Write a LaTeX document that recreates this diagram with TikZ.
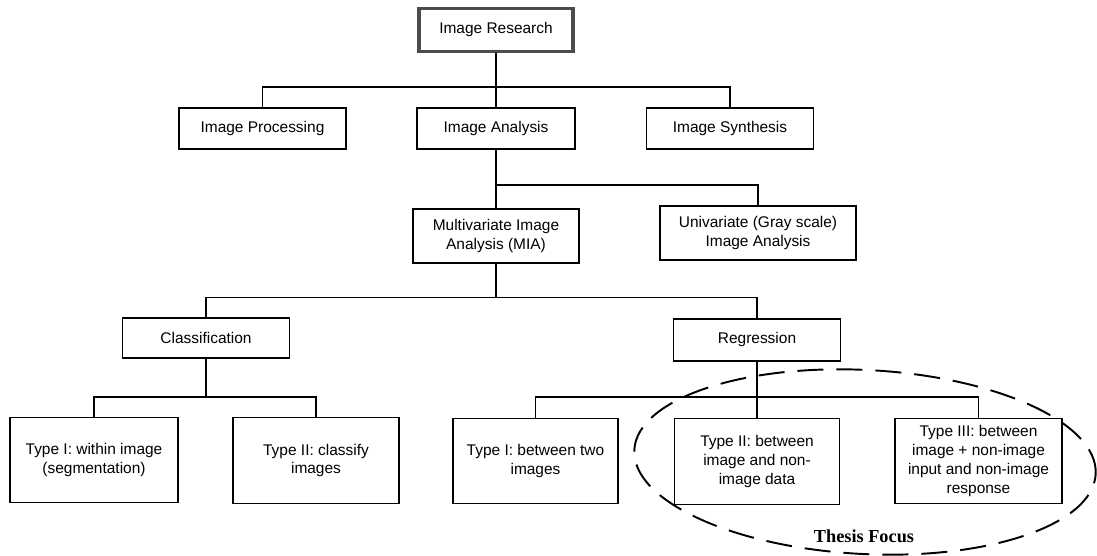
\documentclass[tikz,border=0pt]{standalone}
\usepackage{fontspec}
\setmainfont{Liberation Sans}
\newfontfamily\focusfont{Liberation Serif}
\begin{document}
\begin{tikzpicture}[line width=0.6pt,
        box/.style = {draw, rectangle, align=center, inner sep=2pt, font=\fontsize{8.8}{10.8}\selectfont},
        head/.style = {box, draw=black!70, line width=1.8pt},
        wide/.style = {box, minimum width=3.34cm, minimum height=0.82cm},
        leaf/.style = {box, minimum width=3.32cm, minimum height=1.71cm}]
        \useasboundingbox (0,0) rectangle (21.94,-11.12);

        % first levels
        \node[head, minimum width=3.08cm, minimum height=0.86cm] (res) at (9.92,-0.60) {Image Research};
        \node[wide] (proc) at (5.25,-2.57) {Image Processing};
        \node[wide, minimum width=3.16cm] (ana) at (9.92,-2.57) {Image Analysis};
        \node[wide] (syn) at (14.60,-2.57) {Image Synthesis};
        \node[box, minimum width=3.32cm, minimum height=1.08cm] (mia) at (9.92,-4.72) {Multivariate Image\\Analysis (MIA)};
        \node[box, minimum width=3.92cm, minimum height=1.08cm] (uni) at (15.16,-4.66) {Univariate (Gray scale)\\Image Analysis};
        \node[wide, minimum height=0.80cm] (cls) at (4.12,-6.76) {Classification};
        \node[wide, minimum height=0.84cm] (reg) at (15.14,-6.80) {Regression};

        % leaves
        \node[leaf, minimum width=3.36cm] (cone) at (1.88,-9.20) {Type I: within image\\(segmentation)};
        \node[leaf] (ctwo) at (6.32,-9.21) {Type II: classify\\images};
        \node[leaf, minimum width=3.30cm] (rone) at (10.71,-9.22) {Type I: between two\\images};
        \node[leaf, minimum width=3.30cm] (rtwo) at (15.14,-9.23) {Type II: between\\image and non-\\image data};
        \node[leaf, minimum width=3.34cm] (rthree) at (19.57,-9.22) {Type III: between\\image + non-image\\input and non-image\\response};

        \coordinate (b1) at (9.92,-1.74);
        \coordinate (b2) at (9.92,-3.70);
        \coordinate (b3) at (9.92,-5.95);
        \coordinate (b4) at (4.12,-7.94);
        \coordinate (b5) at (15.14,-7.94);

        \draw (res) -- (ana);
        \draw (proc.north) |- (b1) -| (syn.north);
        \draw (ana) -- (mia);
        \draw (b2) -| (uni.north);
        \draw (mia.south) -- (b3);
        \draw (cls.north) |- (b3) -| (reg.north);
        \draw (cls.south) -- (b4);
        \draw (cone.north) |- (b4) -| (ctwo.north);
        \draw (reg) -- (rtwo);
        \draw (rone.north) |- (b5) -| (rthree.north);

        % focus
        \draw[line width=1.1pt, dash pattern=on 0.52cm off 0.26cm, rotate around={-3:(17.30,-9.24)}]
            (17.30,-9.24) ellipse (4.62cm and 1.84cm);
        \node[font=\focusfont\bfseries\fontsize{10.4}{12}\selectfont] (focus) at (17.28,-10.73) {Thesis Focus};

    \end{tikzpicture}
\end{document}
